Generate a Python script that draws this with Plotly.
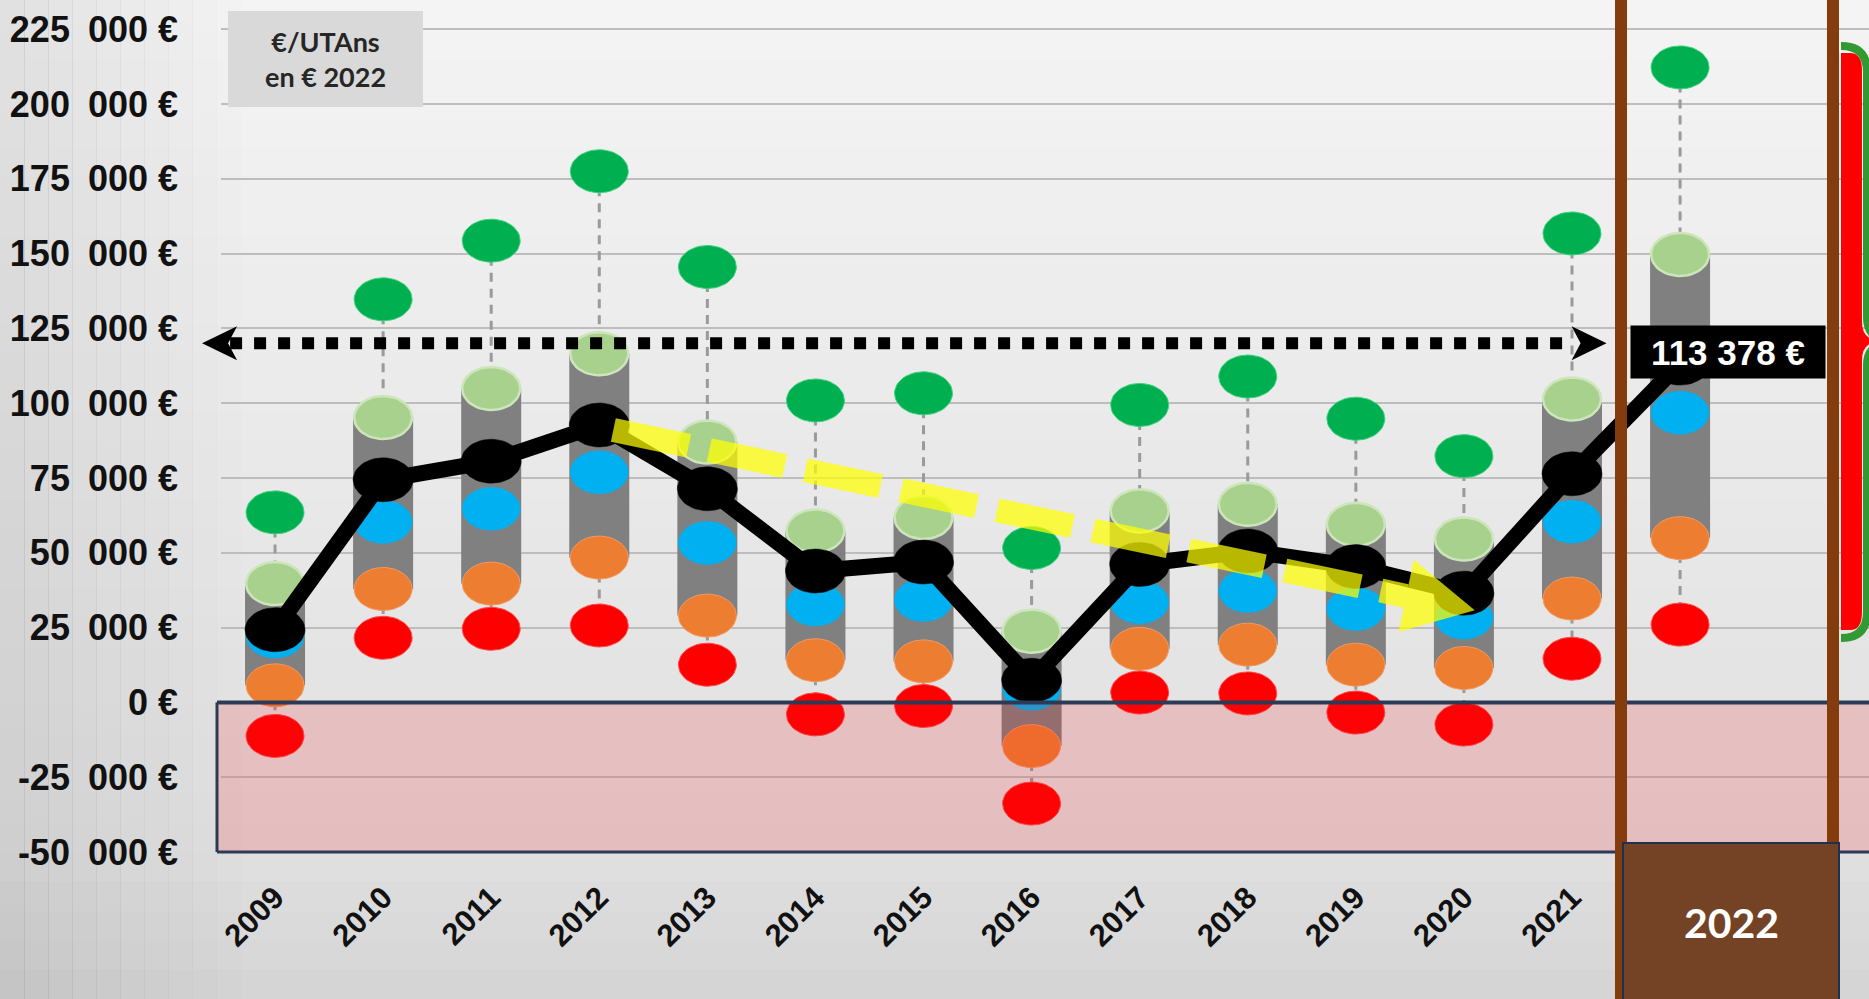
import numpy as np
import plotly.graph_objects as go

# ---------------- data ----------------
YEARS = ["2009", "2010", "2011", "2012", "2013", "2014", "2015",
         "2016", "2017", "2018", "2019", "2020", "2021", "2022"]
D9 = [63500, 134700, 154300, 177500, 145500, 100900, 103300,
      51600, 99400, 108900, 94800, 82300, 156700, 212200]          # dark green
Q3 = [39700, 95200, 104900, 116500, 87000, 57300, 61800,
      23800, 64000, 66200, 59500, 54600, 101400, 149700]           # light green
MEDIAN = [22000, 60300, 64700, 76900, 53300, 32700, 34200,
          4500, 33500, 37200, 31200, 28300, 60400, 96800]          # blue
MEAN = [24300, 74400, 80600, 92700, 71400, 43900, 46900,
        7400, 46100, 50600, 45400, 36500, 76400, 113378]           # black
Q1 = [5700, 37900, 39700, 48400, 29000, 14100, 13700,
      -14600, 17900, 19300, 12600, 11500, 34700, 54900]            # orange
D1 = [-11200, 21600, 24600, 25700, 12600, -4000, -1200,
      -33800, 3300, 3000, -3400, -7400, 14600, 26000]              # red

Y_TICKS = [-50000, -25000, 0, 25000, 50000, 75000, 100000,
           125000, 150000, 175000, 200000, 225000]
SEP = "\u2002"
Y_TICK_TEXT = [f"-50{SEP}000 €", f"-25{SEP}000 €", "0 €", f"25{SEP}000 €",
               f"50{SEP}000 €", f"75{SEP}000 €", f"100{SEP}000 €",
               f"125{SEP}000 €", f"150{SEP}000 €", f"175{SEP}000 €",
               f"200{SEP}000 €", f"225{SEP}000 €"]

REF_LEVEL = 120000
REF_X = (-0.675, 12.32)            # arrow tips (category units)
TREND_START = (3.13, 91000)
TREND_END = (11.10, 30800)
MEAN_LABEL = "113 378 €"
UNIT_LABEL = "€/UTAns<br>en € 2022"

# ---------------- geometry ----------------
FIG_W, FIG_H = 1869, 999
ML, MR, MT, MB = 221, 0, 0, 141
PLOT_W = FIG_W - ML - MR
PLOT_H = FIG_H - MT - MB
X_RANGE = [-0.5, 14.748]
Y_RANGE = [-52000, 234726]
ppx = PLOT_W / (X_RANGE[1] - X_RANGE[0])
ppy = PLOT_H / (Y_RANGE[1] - Y_RANGE[0])


def to_px(x, y):
    return ML + (x - X_RANGE[0]) * ppx, MT + (Y_RANGE[1] - y) * ppy


def px_paper(px, py):
    return (px - ML) / PLOT_W, (MT + PLOT_H - py) / PLOT_H


def px_path(points, close=True):
    s = ""
    for i, (px, py) in enumerate(points):
        xp, yp = px_paper(px, py)
        s += ("M" if i == 0 else "L") + f"{xp:.5f},{yp:.5f} "
    return s + ("Z" if close else "")


idx = list(range(len(YEARS)))
fig = go.Figure()

# gray cylinders
fig.add_trace(go.Bar(
    x=idx, y=[a - b for a, b in zip(Q3, Q1)], base=Q1, width=60 / ppx,
    marker=dict(color="#808080", line=dict(width=0)),
    hoverinfo="skip", showlegend=False))

# dashed whiskers
wx, wy = [], []
for i in idx:
    wx += [i, i, None, i, i, None]
    wy += [D9[i], Q3[i], None, Q1[i], D1[i], None]
fig.add_trace(go.Scatter(x=wx, y=wy, mode="lines",
                         line=dict(color="#9a9a9a", width=3, dash="9px,7px"),
                         hoverinfo="skip", showlegend=False))


def ellipses(xs, ys, rx, ry, fill, line_color, line_w):
    t = np.linspace(0, 2 * np.pi, 49)
    X, Y = [], []
    for x, y in zip(xs, ys):
        X += list(x + rx / ppx * np.cos(t)) + [None]
        Y += list(y + ry / ppy * np.sin(t)) + [None]
    return go.Scatter(x=X, y=Y, mode="lines", fill="toself", fillcolor=fill,
                      line=dict(color=line_color, width=line_w),
                      hoverinfo="skip", showlegend=False)


fig.add_trace(ellipses(idx, Q3, 29, 21.5, "#a9d18e", "#cde5bb", 2.5))
fig.add_trace(ellipses(idx, MEDIAN, 29, 21.5, "#00b0f0", "#00b0f0", 0.5))
fig.add_trace(ellipses(idx, Q1, 29, 21.5, "#ed7d31", "#f29a62", 1))
fig.add_trace(ellipses(idx, D1, 29, 21.5, "#ff0000", "#ff4a4a", 1))
fig.add_trace(ellipses(idx, D9, 29, 21.5, "#00b050", "#3fd07e", 1))

# mean line + markers
fig.add_trace(go.Scatter(x=idx, y=MEAN, mode="lines",
                         line=dict(color="black", width=16),
                         hoverinfo="skip", showlegend=False))
fig.add_trace(ellipses(idx, MEAN, 30, 22, "black", "black", 0.5))

# dotted reference line
l_tip = to_px(REF_X[0], REF_LEVEL)
r_tip = to_px(REF_X[1], REF_LEVEL)
fig.add_trace(go.Scatter(
    x=[REF_X[0] + 28 / ppx, REF_X[1] - 36 / ppx], y=[REF_LEVEL, REF_LEVEL],
    mode="lines", line=dict(color="black", width=12, dash="dot"),
    hoverinfo="skip", showlegend=False))

# yellow trend arrow
sx, sy = to_px(*TREND_START)
ex, ey = to_px(*TREND_END)
L = np.hypot(ex - sx, ey - sy)
ux, uy = (ex - sx) / L, (ey - sy) / L
head_len, head_half = 70, 37
bx, by = ex - head_len * ux, ey - head_len * uy
base_end = (TREND_START[0] + (bx - sx) / ppx, TREND_START[1] - (by - sy) / ppy)
fig.add_trace(go.Scatter(
    x=[TREND_START[0], base_end[0]], y=[TREND_START[1], base_end[1]],
    mode="lines", line=dict(color="rgba(255,255,0,0.72)", width=24, dash="77px,21px"),
    hoverinfo="skip", showlegend=False))

shapes = []
# background gradient (vertical)
n_b = 34
for k in range(n_b):
    y0 = k * FIG_H / n_b
    y1 = (k + 1) * FIG_H / n_b + 1
    ym = (y0 + y1) / 2
    if ym < 850:
        c = 244 - 20 * ym / 850
    else:
        c = 224 - 12 * (ym - 850) / 150
    c = int(round(c))
    _, p0 = px_paper(0, y0)
    _, p1 = px_paper(0, y1)
    shapes.append(dict(type="rect", xref="paper", yref="paper",
                       x0=-ML / PLOT_W - 0.01, x1=1.01, y0=p1, y1=p0,
                       fillcolor=f"rgb({c},{c},{c})", line=dict(width=0),
                       layer="below"))
# soft darkening on the left (label column)
n_s = 10
for k in range(n_s):
    xa, _ = px_paper(k * 24, 0)
    xb, _ = px_paper((k + 1) * 24 + 1, 0)
    a = 0.075 * (1 - k / n_s)
    shapes.append(dict(type="rect", xref="paper", yref="paper",
                       x0=xa, x1=xb, y0=px_paper(0, FIG_H + 5)[1], y1=1.01,
                       fillcolor=f"rgba(0,0,0,{a:.3f})", line=dict(width=0),
                       layer="below"))

# negative zone overlay
xl, _ = px_paper(217, 0)
shapes.append(dict(type="rect", xref="paper", yref="y", x0=xl, x1=1.01,
                   y0=Y_TICKS[0], y1=0, fillcolor="rgba(250,20,30,0.17)",
                   line=dict(width=0), layer="above"))
navy = "#2c3a56"
shapes.append(dict(type="line", xref="paper", yref="y", x0=xl, x1=1.01,
                   y0=0, y1=0, line=dict(color=navy, width=4), layer="above"))
shapes.append(dict(type="line", xref="paper", yref="y", x0=xl, x1=1.01,
                   y0=Y_TICKS[0], y1=Y_TICKS[0], line=dict(color=navy, width=3),
                   layer="above"))
shapes.append(dict(type="line", xref="paper", yref="y", x0=xl, x1=xl,
                   y0=Y_TICKS[0], y1=0, line=dict(color=navy, width=3),
                   layer="above"))


# arrowheads of the dotted line
def stealth(tip, direction, length=35, half=17, notch=9):
    tx, ty = tip
    d = direction
    return px_path([(tx, ty), (tx - d * length, ty - half),
                    (tx - d * (length - notch), ty), (tx - d * length, ty + half)])


shapes.append(dict(type="path", xref="paper", yref="paper",
                   path=stealth(l_tip, -1), fillcolor="black",
                   line=dict(width=0), layer="above"))
shapes.append(dict(type="path", xref="paper", yref="paper",
                   path=stealth(r_tip, 1), fillcolor="black",
                   line=dict(width=0), layer="above"))

# yellow arrowhead
nx, ny = -uy, ux
shapes.append(dict(type="path", xref="paper", yref="paper",
                   path=px_path([(ex, ey), (bx + head_half * nx, by + head_half * ny),
                                 (bx - head_half * nx, by - head_half * ny)]),
                   fillcolor="rgba(255,255,0,0.72)", line=dict(width=0),
                   layer="above"))

# brown frame for the last year
brown = "#843c0c"
for px in (1621, 1833):
    xp, _ = px_paper(px, 0)
    _, ybot = px_paper(0, FIG_H + 5)
    shapes.append(dict(type="line", xref="paper", yref="paper", x0=xp, x1=xp,
                       y0=ybot, y1=1.01, line=dict(color=brown, width=12),
                       layer="above"))
bx0, by0 = px_paper(1623, 843)
bx1, by1 = px_paper(1839, FIG_H + 5)
shapes.append(dict(type="rect", xref="paper", yref="paper", x0=bx0, x1=bx1,
                   y0=by1, y1=by0, fillcolor="#744326",
                   line=dict(color="#1f3050", width=2), layer="above"))

# unit label box
ux0, uy0 = px_paper(228, 11)
ux1, uy1 = px_paper(423, 107)
shapes.append(dict(type="rect", xref="paper", yref="paper", x0=ux0, x1=ux1,
                   y0=uy1, y1=uy0, fillcolor="#d9d9d9", line=dict(width=0),
                   layer="above"))


# right brace (red / green)
def pp(px, py):
    a, b = px_paper(px, py)
    return f"{a:.5f},{b:.5f}"


red_path = (f"M{pp(1841,53)} L{pp(1850,53)} Q{pp(1862,53)} {pp(1862,70)} "
            f"L{pp(1862,322)} Q{pp(1862,340)} {pp(1880,341)} Q{pp(1862,342)} {pp(1862,360)} "
            f"L{pp(1862,612)} Q{pp(1862,630)} {pp(1850,630)} L{pp(1841,630)} Z")
shapes.append(dict(type="path", xref="paper", yref="paper", path=red_path,
                   fillcolor="#ff0000", line=dict(width=0), layer="above"))
green_path = (f"M{pp(1841,46)} Q{pp(1867,46)} {pp(1867,72)} L{pp(1867,318)} "
              f"Q{pp(1867,336)} {pp(1885,340)} M{pp(1885,343)} Q{pp(1867,347)} {pp(1867,365)} "
              f"L{pp(1867,612)} Q{pp(1867,638)} {pp(1841,638)}")
shapes.append(dict(type="path", xref="paper", yref="paper", path=green_path,
                   line=dict(color="#339933", width=8), layer="above"))

annotations = []
annotations.append(dict(
    x=idx[-1], y=MEAN[-1], xref="x", yref="y", text=MEAN_LABEL,
    showarrow=False, xshift=48, yshift=11, bgcolor="black",
    width=188, height=46, borderpad=3, xanchor="center", yanchor="middle",
    font=dict(family="Liberation Sans", size=35, color="white", weight="bold")))
cx, cy = px_paper(1731, 923)
annotations.append(dict(
    x=cx, y=cy, xref="paper", yref="paper", text=YEARS[-1], showarrow=False,
    xanchor="center", yanchor="middle",
    font=dict(family="Lato", size=41, color="white", weight="bold")))
tx, ty = px_paper(325.5, 59)
annotations.append(dict(
    x=tx, y=ty, xref="paper", yref="paper", text=UNIT_LABEL, showarrow=False,
    xanchor="center", yanchor="middle", align="center",
    font=dict(family="Lato", size=27, color="#262626", weight="bold")))

fig.update_layout(
    width=FIG_W, height=FIG_H, autosize=False,
    margin=dict(l=ML, r=MR, t=MT, b=MB, pad=0),
    paper_bgcolor="#e0e0e0", plot_bgcolor="rgba(0,0,0,0)",
    showlegend=False, barmode="overlay",
    xaxis=dict(range=X_RANGE, tickmode="array", tickvals=idx,
               ticktext=YEARS[:-1] + [""], tickangle=-45, showgrid=False,
               zeroline=False, showline=False, ticks="",
               ticklabelstandoff=14,
               tickfont=dict(family="Liberation Sans", size=31, color="#111111",
                             weight="bold")),
    yaxis=dict(range=Y_RANGE, tickmode="array", tickvals=Y_TICKS,
               ticktext=Y_TICK_TEXT, showgrid=True, gridcolor="#bdbdbd",
               gridwidth=2, zeroline=False, showline=False, ticks="",
               ticklabelstandoff=42,
               tickfont=dict(family="Liberation Sans", size=36, color="#111111",
                             weight="bold")),
    shapes=shapes, annotations=annotations,
)

fig.write_html("out.html", config={"displayModeBar": False},
               post_script="document.body.style.margin='0px';")
